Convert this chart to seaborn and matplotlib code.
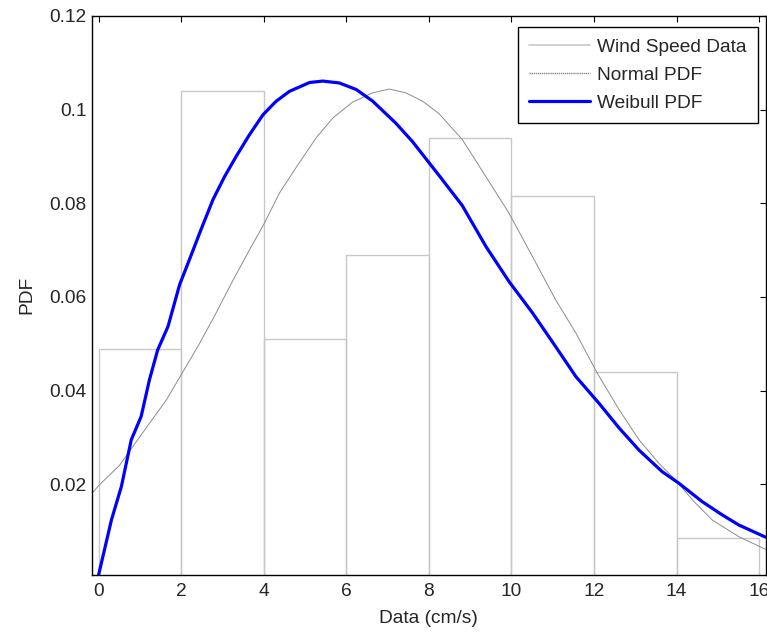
import numpy as np
import pandas as pd
import seaborn as sns
import matplotlib
matplotlib.use('Agg')
import matplotlib.pyplot as plt
from matplotlib.lines import Line2D
from matplotlib.ticker import FuncFormatter

# histogram of wind speed (density per bin)
bin_edges = [0, 2, 4, 6, 8, 10, 12, 14, 16]
bin_heights = [0.049, 0.104, 0.051, 0.069, 0.094, 0.0815, 0.044, 0.0085]

# fitted normal pdf
normal_x = [-0.16, 0.02, 0.51, 0.83, 1.23, 1.64, 2.12, 2.44, 2.81, 3.25, 3.65, 4.0,
            4.38, 4.78, 5.27, 5.67, 6.15, 6.64, 7.04, 7.44, 7.85, 8.25, 8.81, 9.38,
            9.94, 10.51, 11.07, 11.56, 12.08, 12.61, 13.09, 13.57, 13.98, 14.38,
            14.86, 15.51, 16.16]
normal_y = [0.0181, 0.0199, 0.0241, 0.0281, 0.0330, 0.0380, 0.0452, 0.0500, 0.0560,
            0.0635, 0.0700, 0.0755, 0.0822, 0.0876, 0.0940, 0.0982, 0.1016, 0.1036,
            0.1044, 0.1036, 0.1018, 0.0991, 0.0936, 0.0857, 0.0779, 0.0686, 0.0594,
            0.0523, 0.0437, 0.0359, 0.0295, 0.0245, 0.0209, 0.0167, 0.0124, 0.0088,
            0.0061]

# fitted weibull pdf
weib_x = [0.0, 0.31, 0.55, 0.79, 1.03, 1.23, 1.43, 1.68, 1.96, 2.2, 2.48, 2.77,
          3.05, 3.33, 3.65, 3.98, 4.3, 4.62, 5.11, 5.43, 5.83, 6.24, 6.64, 7.2,
          7.6, 8.25, 8.81, 9.38, 9.94, 10.51, 11.07, 11.56, 12.12, 12.61, 13.09,
          13.65, 14.06, 14.62, 15.1, 15.51, 16.16]
weib_y = [0.0007, 0.0124, 0.0195, 0.0295, 0.0345, 0.0423, 0.0487, 0.0537, 0.0626,
          0.0680, 0.0744, 0.0808, 0.0857, 0.0900, 0.0946, 0.0989, 0.1018, 0.1039,
          0.1058, 0.1061, 0.1057, 0.1043, 0.1018, 0.0971, 0.0932, 0.0859, 0.0795,
          0.0708, 0.0633, 0.0566, 0.0494, 0.0430, 0.0373, 0.0320, 0.0273, 0.0227,
          0.0202, 0.0163, 0.0135, 0.0113, 0.0087]

sns.set_style('white')
plt.rcParams['font.family'] = ['Liberation Sans', 'DejaVu Sans']
fs = 13.8

fig = plt.figure(figsize=(7.67, 6.37), dpi=100)
ax = fig.add_axes([0.12, 0.0978, 0.8784, 0.8771])

centers = [(a + b) / 2 for a, b in zip(bin_edges[:-1], bin_edges[1:])]
hist_df = pd.DataFrame({'x': centers, 'w': bin_heights})
sns.histplot(data=hist_df, x='x', weights='w', bins=bin_edges, stat='count',
             fill=False, color='#c8c8c8', linewidth=1.0, ax=ax)

norm_df = pd.DataFrame({'x': normal_x, 'y': normal_y})
weib_df = pd.DataFrame({'x': weib_x, 'y': weib_y})
sns.lineplot(data=norm_df, x='x', y='y', color='#8c8c8c', linewidth=0.7, ax=ax)
sns.lineplot(data=weib_df, x='x', y='y', color='#0000ff', linewidth=2.3, ax=ax)

ax.set_xlim(-0.16, 16.16)
ax.set_ylim(0.0007, 0.12)
ax.set_xticks(range(0, 17, 2))
ax.set_yticks([0.02, 0.04, 0.06, 0.08, 0.1, 0.12])
ax.yaxis.set_major_formatter(FuncFormatter(lambda v, p: f'{v:g}'))
ax.tick_params(direction='in', top=True, right=True, length=4, width=0.8,
               labelsize=fs, color='black', pad=4)
ax.tick_params(axis='x', pad=6)
for s in ax.spines.values():
    s.set_color('black')
    s.set_linewidth(1.0)

ax.set_xlabel('Data (cm/s)', fontsize=fs, labelpad=7)
ax.set_ylabel('PDF', fontsize=fs, labelpad=10)

handles = [Line2D([], [], color='#c8c8c8', lw=1.2),
           Line2D([], [], color='#8a8a8a', lw=1.0, ls=(0, (1, 0.5))),
           Line2D([], [], color='#0000ff', lw=2.3)]
leg = ax.legend(handles, ['Wind Speed Data', 'Normal PDF', 'Weibull PDF'],
                loc='upper right', bbox_to_anchor=(0.9886, 0.9803), borderaxespad=0,
                fontsize=fs, fancybox=False, edgecolor='black', framealpha=1,
                handlelength=3.2, handletextpad=0.35, labelspacing=0.55,
                borderpad=0.6)
leg.get_frame().set_linewidth(1.0)

plt.savefig('out.png', dpi=100)
